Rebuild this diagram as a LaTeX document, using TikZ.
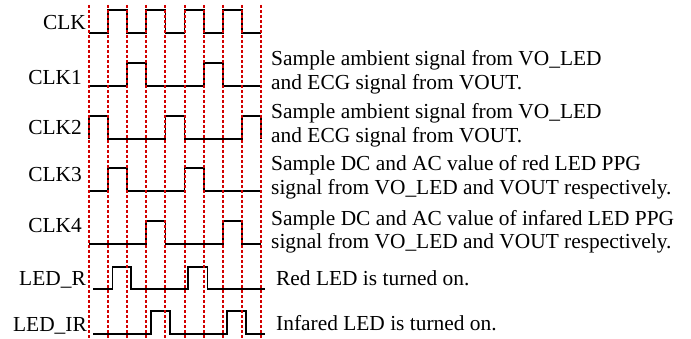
\documentclass[tikz,border=0pt]{standalone}
\usepackage{fontspec}
\setmainfont{Liberation Serif}
\begin{document}
\begin{tikzpicture}[x=1pt,y=-1pt,
  gridline/.style={draw={rgb,255:red,210;green,0;blue,0}, line width=2pt, dash pattern=on 3pt off 2pt},
  sig/.style={draw=black, line width=1.7pt},
  lbl/.style={anchor=base east, inner sep=0pt, font=\fontsize{21.4}{24}\selectfont},
  desc/.style={anchor=base west, inner sep=0pt, align=left, font=\fontsize{21.4}{24}\selectfont}]
\useasboundingbox (0,0) rectangle (691,339);
% signals
\draw[sig] (89,33)-|(108.1,10)-|(127.2,33)-|(146.3,10)-|(165.4,33)-|(184.6,10)-|(203.7,33)-|(222.8,10)-|(241.9,33)--(261,33);
\draw[sig] (89,86)-|(127.2,63)-|(146.3,86)-|(203.7,63)-|(222.8,86)--(261,86);
\draw[sig] (89,139)--(89,116)-|(108.1,139)-|(165.4,116)-|(184.6,139)-|(241.9,116)-|(261,139);
\draw[sig] (89,191)-|(108.1,168)-|(127.2,191)-|(184.6,168)-|(203.7,191)--(261,191);
\draw[sig] (89,244)-|(146.3,221)-|(165.4,244)-|(222.8,221)-|(241.9,244)--(261,244);
\draw[sig] (93,289)-|(112.5,267)-|(131,289)-|(188,267)-|(207.5,289)--(265,289);
\draw[sig] (93,334)-|(151,311)-|(170,334)-|(227,311)-|(246,334)--(265,334);
% grid
\foreach \i in {0,...,9} \draw[gridline] ({89+19.11*\i},5) -- ({89+19.11*\i},339);
% labels
\node[lbl] (lclk) at (86,30) {CLK};
\node[lbl] (lclk1) at (82,85) {CLK1};
\node[lbl] (lclk2) at (82,135) {CLK2};
\node[lbl] (lclk3) at (82,182) {CLK3};
\node[lbl] (lclk4) at (82,233) {CLK4};
\node[lbl] (lledr) at (86,286) {LED\_R};
\node[lbl] (lledir) at (87,331) {LED\_IR};
% descriptions (anchored at the baseline of the last line)
\node[desc] (d1) at (271,90) {Sample ambient signal from VO\_LED\\and ECG signal from VOUT.};
\node[desc] (d2) at (271,143) {Sample ambient signal from VO\_LED\\and ECG signal from VOUT.};
\node[desc] (d3) at (271,195) {Sample DC and AC value of red LED PPG\\signal from VO\_LED and VOUT respectively.};
\node[desc] (d4) at (271,249) {Sample DC and AC value of infared LED PPG\\signal from VO\_LED and VOUT respectively.};
\node[desc] (d5) at (276,286) {Red LED is turned on.};
\node[desc] (d6) at (276,330) {Infared LED is turned on.};
\end{tikzpicture}
\end{document}
